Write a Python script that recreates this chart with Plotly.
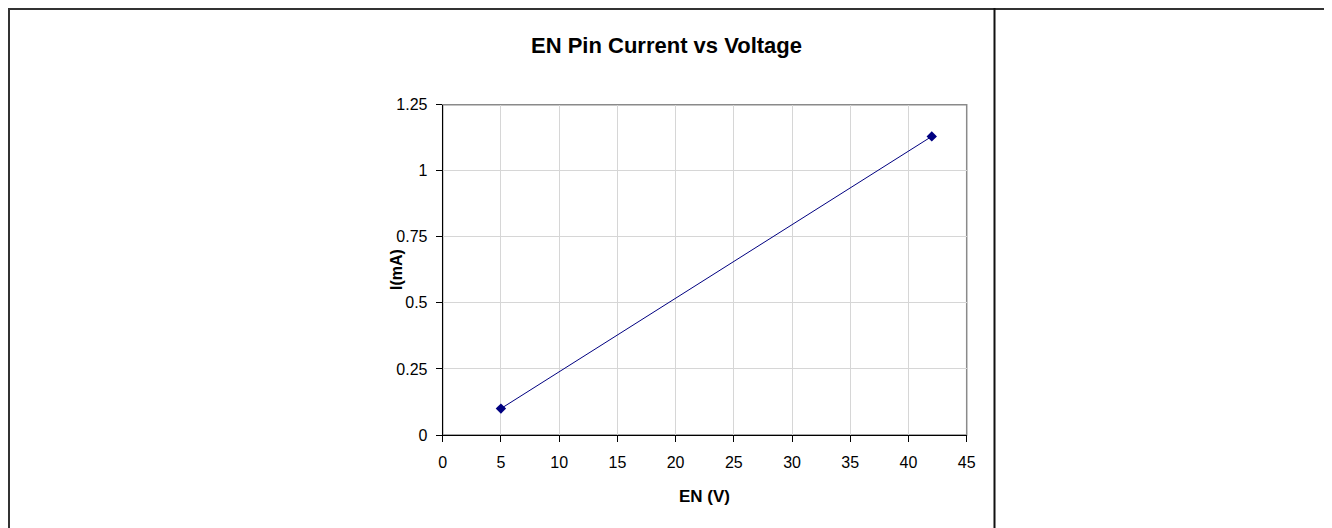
import plotly.graph_objects as go

# Data
en_voltage = [5, 42]
en_current = [0.1, 1.13]

x_ticks = [0, 5, 10, 15, 20, 25, 30, 35, 40, 45]
y_ticks = [0, 0.25, 0.5, 0.75, 1, 1.25]
y_tick_labels = ["0", "0.25", "0.5", "0.75", "1", "1.25"]

W, H = 1332, 528
OFF = 8  # page body margin
px_l, px_r, px_t, px_b = 442.7 - OFF, 966.7 - OFF, 104.7 - OFF, 435.0 - OFF

def px(x):
    return x / W

def py(y):
    return 1 - y / H

FONT = "Arial, Liberation Sans, sans-serif"

fig = go.Figure()
fig.add_trace(go.Scatter(
    x=en_voltage, y=en_current, mode="lines+markers",
    line=dict(color="#000080", width=1),
    marker=dict(symbol="diamond", size=8, color="#000080"),
    showlegend=False,
))

tick_font = dict(family=FONT, size=16, color="#000000")

fig.update_layout(
    width=W, height=H,
    margin=dict(l=0, r=0, t=0, b=0),
    paper_bgcolor="white", plot_bgcolor="white",
    xaxis=dict(
        domain=[px(px_l), px(px_r)], range=[0, 45],
        tickvals=x_ticks, ticktext=[str(v) for v in x_ticks],
        showgrid=True, gridcolor="#d6d6d6", gridwidth=1,
        showline=True, linecolor="#000000", linewidth=1,
        ticks="outside", ticklen=6, tickcolor="#000000",
        ticklabelstandoff=7, automargin=False,
        tickfont=tick_font, zeroline=False,
    ),
    yaxis=dict(
        domain=[py(px_b), py(px_t)], range=[0, 1.25],
        tickvals=y_ticks, ticktext=y_tick_labels,
        showgrid=True, gridcolor="#d6d6d6", gridwidth=1,
        showline=True, linecolor="#000000", linewidth=1,
        ticks="outside", ticklen=6, tickcolor="#000000",
        ticklabelstandoff=5, automargin=False,
        tickfont=tick_font, zeroline=False,
    ),
    shapes=[
        # plot border (top/right gray)
        dict(type="rect", xref="x domain", yref="y domain", x0=0, x1=1, y0=0, y1=1,
             line=dict(color="#8a8a8a", width=1.5), layer="below"),
        # outer frame
        dict(type="line", xref="paper", yref="paper", x0=px(0), x1=px(1319.5), y0=py(1), y1=py(1),
             line=dict(color="#333333", width=2)),
        dict(type="line", xref="paper", yref="paper", x0=px(1), x1=px(1), y0=py(0), y1=py(528),
             line=dict(color="#333333", width=2)),
        dict(type="line", xref="paper", yref="paper", x0=px(1318.5), x1=px(1318.5), y0=py(0), y1=py(528),
             line=dict(color="#333333", width=2)),
        # divider
        dict(type="line", xref="paper", yref="paper", x0=px(986.5), x1=px(986.5), y0=py(0), y1=py(528),
             line=dict(color="#111111", width=2)),
    ],
    annotations=[
        dict(text="<b>EN Pin Current vs Voltage</b>", xref="paper", yref="paper",
             x=px(658.5), y=py(37), xanchor="center", yanchor="middle", showarrow=False,
             font=dict(family=FONT, size=22, color="#000000")),
        dict(text="<b>EN (V)</b>", xref="paper", yref="paper",
             x=px(696.5), y=py(488), xanchor="center", yanchor="middle", showarrow=False,
             font=dict(family=FONT, size=17, color="#000000")),
        dict(text="<b>I(mA)</b>", xref="paper", yref="paper",
             x=px(388), y=py(262), xanchor="center", yanchor="middle", showarrow=False,
             textangle=-90,
             font=dict(family=FONT, size=16, color="#000000")),
    ],
)

fig.write_html("out.html")
